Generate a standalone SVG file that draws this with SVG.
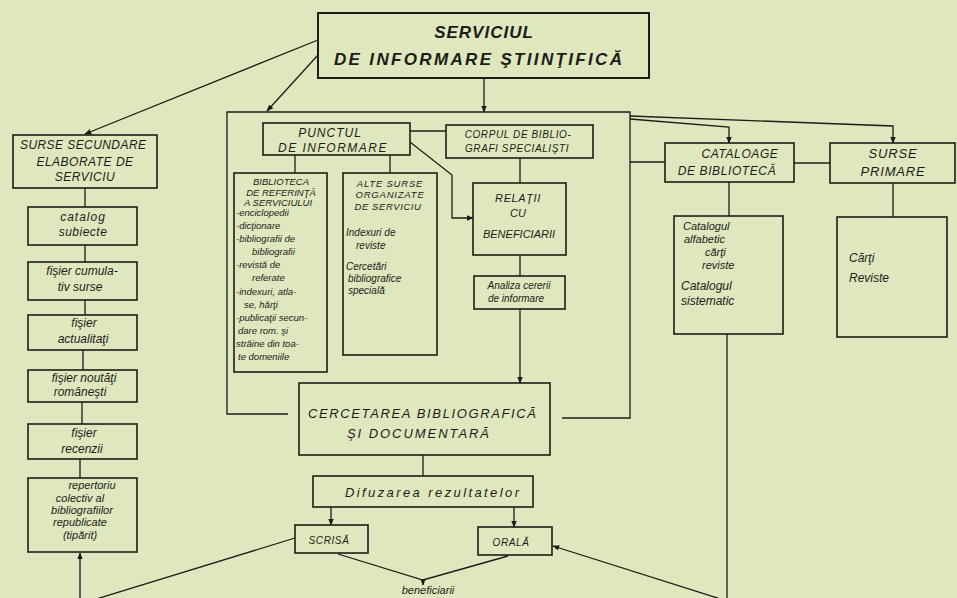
<svg xmlns="http://www.w3.org/2000/svg" width="957" height="598" viewBox="0 0 957 598">
<defs>
<style>
.bx{fill:none;stroke:#1c1d16;stroke-width:1.6}
.ln{fill:none;stroke:#1c1d16;stroke-width:1.3}
.t{font-family:"Liberation Sans",Arial,sans-serif;font-style:italic;fill:#1c1d16;text-anchor:middle}
.s12{font-size:12px}
.s11{font-size:11px}
.s10{font-size:10px}
.s9{font-size:9.5px}
.l{text-anchor:start}
</style>
<marker id="ah" viewBox="0 0 10 10" refX="9" refY="5" markerWidth="7" markerHeight="7" markerUnits="userSpaceOnUse" orient="auto-start-reverse"><path d="M0,1 L10,5 L0,9 z" fill="#1c1d16"/></marker>
</defs>
<rect x="0" y="0" width="957" height="598" fill="#dfe7bf"/>

<g id="connectors">
<path class="ln" d="M318,40 L85,134" marker-end="url(#ah)"/>
<path class="ln" d="M318,55 L267,111" marker-end="url(#ah)"/>
<path class="ln" d="M484,78 L484,112" marker-end="url(#ah)"/>
<path class="ln" d="M288,414 L227,414 L227,112 L630,112 L630,418 L562,418"/>
<path class="ln" d="M630,119 L729,127 L729,143" marker-end="url(#ah)"/>
<path class="ln" d="M630,116 L893,126 L893,143" marker-end="url(#ah)"/>
<path class="ln" d="M630,162 L665,162"/>
<path class="ln" d="M794,163 L830,163"/>
<path class="ln" d="M729,182 L729,216"/>
<path class="ln" d="M893,183 L893,217"/>
<path class="ln" d="M727,334 L727,601 L553,546" marker-end="url(#ah)"/>
<path class="ln" d="M295,538 L80,604 L80,553" marker-end="url(#ah)"/>
<path class="ln" d="M85,188 L85,207 M85,245 L85,262 M85,300 L85,315 M83,350 L83,370 M82,402 L82,424 M80,459 L80,478"/>
<path class="ln" d="M295,155 L295,173 M390,155 L390,173 M410,131 L446,131"/>
<path class="ln" d="M410,142 L452,175 L452,218 L473,218" marker-end="url(#ah)"/>
<path class="ln" d="M520,158 L520,183 M520,255 L520,276"/>
<path class="ln" d="M520,309 L520,383" marker-end="url(#ah)"/>
<path class="ln" d="M423,455 L423,476"/>
<path class="ln" d="M331,507 L331,525" marker-end="url(#ah)"/>
<path class="ln" d="M514,507 L514,527" marker-end="url(#ah)"/>
<path class="ln" d="M338,554 L423,580 L508,556"/>
<path class="ln" d="M423,579 L423,585" marker-end="url(#ah)"/>
</g>

<g id="serviciul">
<rect class="bx" x="318" y="13" width="331" height="65" style="stroke-width:2"/>
<text class="t" x="484" y="38" style="font-size:17px;font-weight:bold;letter-spacing:1px">SERVICIUL</text>
<text class="t" x="478" y="65" style="font-size:17px;font-weight:bold" textLength="288" lengthAdjust="spacing">DE INFORMARE ŞTIINŢIFICĂ</text>
</g>

<g id="surse-secundare">
<rect class="bx" x="13" y="135" width="144" height="53"/>
<text class="t s12" x="83" y="149" textLength="126" lengthAdjust="spacing">SURSE SECUNDARE</text>
<text class="t s12" x="85" y="166" style="letter-spacing:0.5px">ELABORATE DE</text>
<text class="t s12" x="85" y="181" style="letter-spacing:0.5px">SERVICIU</text>
</g>
<g id="catalog-subiecte">
<rect class="bx" x="28" y="207" width="109" height="38"/>
<text class="t s12" x="83" y="221" style="letter-spacing:1px">catalog</text>
<text class="t s12" x="83" y="236" style="letter-spacing:0.5px">subiecte</text>
</g>
<g id="fisier-cumulativ">
<rect class="bx" x="28" y="262" width="109" height="38"/>
<text class="t s12" x="82" y="275">fişier cumula-</text>
<text class="t s12" x="80" y="291">tiv surse</text>
</g>
<g id="fisier-actualitati">
<rect class="bx" x="28" y="315" width="109" height="35"/>
<text class="t s12" x="84" y="327">fişier</text>
<text class="t s12" x="83" y="343">actualitaţi</text>
</g>
<g id="fisier-noutati">
<rect class="bx" x="28" y="370" width="109" height="32"/>
<text class="t s12" x="84" y="382">fişier noutăţi</text>
<text class="t s12" x="80" y="396">româneşti</text>
</g>
<g id="fisier-recenzii">
<rect class="bx" x="28" y="424" width="109" height="35"/>
<text class="t s12" x="84" y="437">fişier</text>
<text class="t s12" x="82" y="453">recenzii</text>
</g>
<g id="repertoriu">
<rect class="bx" x="28" y="478" width="109" height="74"/>
<text class="t s11" x="92" y="489">repertoriu</text>
<text class="t s11" x="80" y="502">colectiv al</text>
<text class="t s11" x="82" y="514">bibliografiilor</text>
<text class="t s11" x="80" y="526">republicate</text>
<text class="t s11" x="80" y="539">(tipărit)</text>
</g>

<g id="punctul">
<rect class="bx" x="263" y="123" width="147" height="32"/>
<text class="t s12" x="330" y="137" style="letter-spacing:1px">PUNCTUL</text>
<text class="t s12" x="333" y="152" style="letter-spacing:1.5px">DE INFORMARE</text>
</g>
<g id="corpul">
<rect class="bx" x="446" y="125" width="147" height="33"/>
<text class="t s10" x="518" y="138" style="letter-spacing:0.6px">CORPUL DE BIBLIO-</text>
<text class="t s10" x="517" y="152" style="letter-spacing:0.6px">GRAFI SPECIALIŞTI</text>
</g>
<g id="biblioteca">
<rect class="bx" x="234" y="173" width="93" height="199"/>
<text class="t s9" x="281" y="185">BIBLIOTECA</text>
<text class="t s9" x="281" y="196">DE REFERINŢĂ</text>
<text class="t s9" x="278" y="206">A SERVICIULUI</text>
<text class="t s9 l" x="236" y="216">-enciclopedii</text>
<text class="t s9 l" x="236" y="229">-dicţionare</text>
<text class="t s9 l" x="236" y="242">-bibliografii de</text>
<text class="t s9 l" x="252" y="255">bibliografii</text>
<text class="t s9 l" x="236" y="268">-revistă de</text>
<text class="t s9 l" x="252" y="281">referate</text>
<text class="t s9 l" x="236" y="295">-indexuri, atla-</text>
<text class="t s9 l" x="244" y="308">se, hărţi</text>
<text class="t s9 l" x="236" y="321">-publicaţii secun-</text>
<text class="t s9 l" x="238" y="334">dare rom. şi</text>
<text class="t s9 l" x="236" y="347">străine din toa-</text>
<text class="t s9 l" x="238" y="360">te domeniile</text>
</g>
<g id="alte-surse">
<rect class="bx" x="343" y="173" width="94" height="182"/>
<text class="t s9" x="390" y="187" style="letter-spacing:0.8px">ALTE SURSE</text>
<text class="t s9" x="390" y="198" style="letter-spacing:0.8px">ORGANIZATE</text>
<text class="t s9" x="388" y="210" style="letter-spacing:0.6px">DE SERVICIU</text>
<text class="t s10 l" x="346" y="236">Indexuri de</text>
<text class="t s10 l" x="356" y="249">reviste</text>
<text class="t s10 l" x="346" y="270">Cercetări</text>
<text class="t s10 l" x="348" y="282">bibliografice</text>
<text class="t s10 l" x="348" y="294">specială</text>
</g>
<g id="relatii">
<rect class="bx" x="473" y="183" width="93" height="72"/>
<text class="t s11" x="518" y="202" style="letter-spacing:0.6px">RELAŢII</text>
<text class="t s11" x="518" y="217">CU</text>
<text class="t s11" x="519" y="238">BENEFICIARII</text>
</g>
<g id="analiza">
<rect class="bx" x="474" y="276" width="91" height="33"/>
<text class="t s10" x="519" y="289">Analiza cererii</text>
<text class="t s10" x="516" y="302">de informare</text>
</g>
<g id="cercetarea">
<rect class="bx" x="299" y="383" width="251" height="72"/>
<text class="t" x="422" y="418" style="font-size:13px" textLength="228" lengthAdjust="spacing">CERCETAREA BIBLIOGRAFICĂ</text>
<text class="t" x="418" y="438" style="font-size:13px" textLength="142" lengthAdjust="spacing">ŞI DOCUMENTARĂ</text>
</g>
<g id="difuzarea">
<rect class="bx" x="313" y="476" width="220" height="31"/>
<text class="t" x="432" y="497" style="font-size:13px" textLength="174" lengthAdjust="spacing">Difuzarea rezultatelor</text>
</g>
<g id="scrisa">
<rect class="bx" x="295" y="525" width="73" height="28"/>
<text class="t s10" x="329" y="544" style="letter-spacing:0.6px">SCRISĂ</text>
</g>
<g id="orala">
<rect class="bx" x="478" y="527" width="74" height="28"/>
<text class="t s10" x="511" y="546" style="letter-spacing:0.6px">ORALĂ</text>
</g>
<g id="beneficiarii">
<text class="t" x="428" y="594" style="font-size:11px">beneficiarii</text>
</g>

<g id="cataloage">
<rect class="bx" x="665" y="143" width="129" height="39"/>
<text class="t s12" x="740" y="158" style="letter-spacing:0.6px">CATALOAGE</text>
<text class="t s12" x="727" y="175" style="letter-spacing:0.6px">DE BIBLIOTECĂ</text>
</g>
<g id="surse-primare">
<rect class="bx" x="830" y="143" width="125" height="40"/>
<text class="t" x="893" y="158" style="font-size:13px;letter-spacing:0.8px">SURSE</text>
<text class="t" x="893" y="176" style="font-size:13px;letter-spacing:0.8px">PRIMARE</text>
</g>
<g id="catalogul">
<rect class="bx" x="674" y="216" width="109" height="118"/>
<text class="t s11 l" x="683" y="230">Catalogul</text>
<text class="t s11 l" x="684" y="243">alfabetic</text>
<text class="t s11 l" x="705" y="256">cărţi</text>
<text class="t s11 l" x="702" y="269">reviste</text>
<text class="t s12 l" x="681" y="290">Catalogul</text>
<text class="t s12 l" x="681" y="305">sistematic</text>
</g>
<g id="carti-reviste">
<rect class="bx" x="837" y="217" width="110" height="120"/>
<text class="t s12 l" x="849" y="262">Cărţi</text>
<text class="t s12 l" x="849" y="282">Reviste</text>
</g>
</svg>
